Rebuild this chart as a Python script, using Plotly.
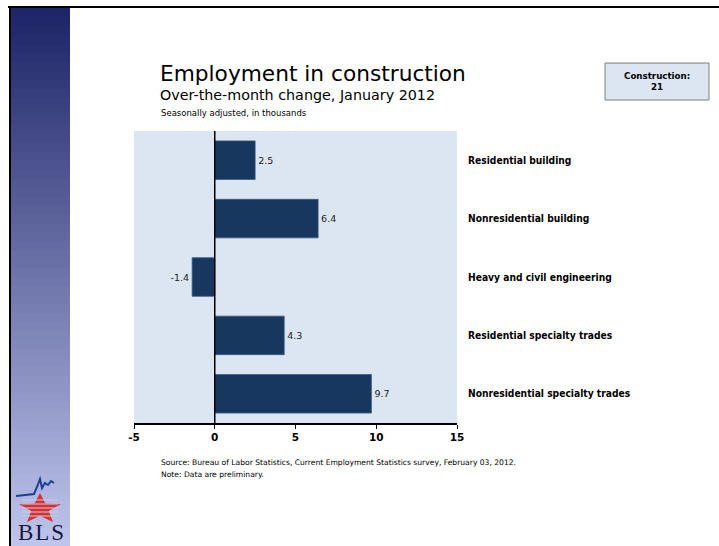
import plotly.graph_objects as go
import math

W, H = 719, 546
L, R, T, B = 134, 262, 131, 123
PW, PH = W - L - R, H - T - B

categories = ["Residential building", "Nonresidential building", "Heavy and civil engineering",
              "Residential specialty trades", "Nonresidential specialty trades"]
values = [2.5, 6.4, -1.4, 4.3, 9.7]
value_labels = ["2.5", "6.4", "-1.4", "4.3", "9.7"]
x_ticks = [-5, 0, 5, 10, 15]
total_label = "Construction:<br>21"

def px(x):
    return (x - L) / PW

def py(y):
    return 1 - (y - T) / PH

fig = go.Figure()
fig.add_trace(go.Bar(
    y=categories, x=values, orientation="h",
    marker=dict(color="#17375e", line=dict(color="#3a5a86", width=0.8)),
    width=0.66,
    text=value_labels, textposition="outside",
    textfont=dict(family="DejaVu Sans", size=9.5, color="#222"),
    cliponaxis=False,
))

shapes = []
# gradient sidebar
top_c = (30, 37, 104)
bot_c = (190, 197, 236)
y0, y1 = 8, 546
n = 60
for i in range(n):
    t = i / (n - 1)
    c = tuple(int(top_c[k] + (bot_c[k] - top_c[k]) * t) for k in range(3))
    ya = y0 + (y1 - y0) * i / n
    yb = y0 + (y1 - y0) * (i + 1) / n + 3
    shapes.append(dict(type="rect", xref="paper", yref="paper",
                       x0=px(11), x1=px(70), y0=py(ya), y1=py(min(yb, 546)),
                       fillcolor="rgb(%d,%d,%d)" % c, line=dict(width=0), layer="below"))
# frame lines
shapes.append(dict(type="line", xref="paper", yref="paper", x0=px(8), x1=px(719), y0=py(7), y1=py(7),
                   line=dict(color="black", width=2)))
shapes.append(dict(type="line", xref="paper", yref="paper", x0=px(10), x1=px(10), y0=py(7), y1=py(546),
                   line=dict(color="black", width=2)))
# zero line
shapes.append(dict(type="line", xref="x", yref="paper", x0=0, x1=0, y0=0, y1=1,
                   line=dict(color="black", width=1.5)))
# box
shapes.append(dict(type="rect", xref="paper", yref="paper", x0=px(605), x1=px(709), y0=py(63), y1=py(100),
                   fillcolor="#dce6f2", line=dict(color="#7f7f7f", width=1)))
# BLS star (decorative logo)
cx, cy, rx, ry = 40, 509, 22, 16
pts = []
for k in range(10):
    ang = -math.pi / 2 + k * math.pi / 5
    f = 1.0 if k % 2 == 0 else 0.42
    pts.append((cx + rx * f * math.cos(ang), cy + ry * f * math.sin(ang)))
path = "M " + " L ".join("%f,%f" % (px(a), py(b)) for a, b in pts) + " Z"
shapes.append(dict(type="path", xref="paper", yref="paper", path=path,
                   fillcolor="#d9302f", line=dict(width=0)))
for yy in [500, 504, 508, 512, 516]:
    shapes.append(dict(type="line", xref="paper", yref="paper", x0=px(22), x1=px(58), y0=py(yy), y1=py(yy),
                       line=dict(color="#c9cde8", width=1)))
swoosh = [(16, 496), (34, 494), (37, 487), (40, 479), (42, 488), (45, 483), (48, 485), (51, 481), (54, 483)]
spath = "M " + " L ".join("%f,%f" % (px(a), py(b)) for a, b in swoosh)
shapes.append(dict(type="path", xref="paper", yref="paper", path=spath,
                   line=dict(color="#1f3c96", width=2)))

ann = []
def text(x, y, s, size, bold=False, family="DejaVu Sans", xanchor="left", color="black", align="left"):
    ann.append(dict(xref="paper", yref="paper", x=px(x), y=py(y), text=("<b>%s</b>" % s) if bold else s,
                    showarrow=False, xanchor=xanchor, yanchor="middle", align=align,
                    font=dict(family=family, size=size, color=color)))

text(158, 73, "Employment in construction", 21.7)
text(158, 95, "Over-the-month change, January 2012", 14.3)
text(159, 113, "Seasonally adjusted, in thousands", 8.5)
text(657, 81, total_label, 8.7, bold=True, xanchor="center", align="center")
text(159, 462, "Source: Bureau of Labor Statistics, Current Employment Statistics survey, February 03, 2012.", 7.6)
text(159, 474, "Note: Data are preliminary.", 7.6)
text(41, 532, "B&#8202;L&#8202;S", 23, family="Liberation Serif", xanchor="center", color="#14183a")

fig.update_layout(
    width=W, height=H,
    margin=dict(l=L, r=R, t=T, b=B, pad=0),
    paper_bgcolor="white", plot_bgcolor="#dce6f2",
    showlegend=False,
    shapes=shapes, annotations=ann,
    xaxis=dict(range=[-5, 15], tickvals=x_ticks, ticktext=["<b>%d</b>" % v for v in x_ticks],
               showgrid=False, zeroline=False, showline=True, linecolor="black", linewidth=1.5,
               ticks="outside", ticklen=4, tickcolor="black",
               tickfont=dict(family="DejaVu Sans", size=10.5, color="black")),
    yaxis=dict(categoryorder="array", categoryarray=categories, autorange="reversed",
               side="right", showgrid=False, zeroline=False, showline=False, ticks="",
               ticktext=["<b>%s</b>" % c for c in categories], tickvals=categories,
               ticklabelstandoff=10,
               tickfont=dict(family="DejaVu Sans Condensed, DejaVu Sans", size=10.2, color="black")),
)
fig.write_html("out.html")
